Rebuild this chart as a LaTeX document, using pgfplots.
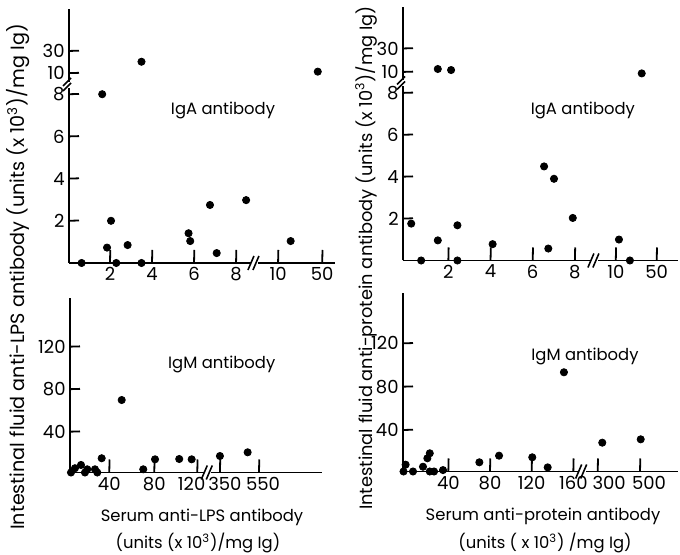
\documentclass[border=0pt]{standalone}
\usepackage{fontspec}
\setmainfont{Poppins}
\usepackage{pgfplots}
\pgfplotsset{compat=1.18}
\newcommand\ff{\fontsize{8.2}{10}\selectfont}
\newcommand\tf{\fontsize{9}{10}\selectfont}
\newcommand\yfl{\fontsize{9.6}{10}\selectfont}
\newcommand\yfr{\fontsize{8.9}{10}\selectfont}
\pgfplotsset{brk/.style={scale only axis, anchor=south west, axis lines=left,
  axis line style={-, line width=0.9pt}, tick align=inside, major tick length=0pt,
  clip=false, ticklabel style={font=\tf},
  xticklabel style={inner sep=2pt}, yticklabel style={inner sep=2pt},
  minor tick num=0}}
\tikzset{dots/.style={black, only marks, mark=*, mark size=1.8pt, mark options={fill=black, draw=black}}}
\newcommand\xbreak[2]{%
  \fill[white] ([xshift=-2pt,yshift=-1.5pt]axis cs:#1,#2) rectangle ([xshift=1.5pt,yshift=1.5pt]axis cs:#1,#2);
  \draw[line width=0.8pt] ([xshift=-3.5pt,yshift=-3.5pt]axis cs:#1,#2) -- ([xshift=-0.5pt,yshift=3.5pt]axis cs:#1,#2);
  \draw[line width=0.8pt] ([xshift=-1pt,yshift=-3.5pt]axis cs:#1,#2) -- ([xshift=2pt,yshift=3.5pt]axis cs:#1,#2);}
\newcommand\ybreak[2]{%
  \fill[white] ([xshift=-1.5pt,yshift=-1.5pt]axis cs:#1,#2) rectangle ([xshift=1.5pt,yshift=1.5pt]axis cs:#1,#2);
  \draw[line width=0.8pt] ([xshift=-3pt,yshift=-3pt]axis cs:#1,#2) -- ([xshift=1pt,yshift=1pt]axis cs:#1,#2);
  \draw[line width=0.8pt] ([xshift=-3pt,yshift=-0.5pt]axis cs:#1,#2) -- ([xshift=1pt,yshift=3.5pt]axis cs:#1,#2);}
\begin{document}
\begin{tikzpicture}
\useasboundingbox (0,0) rectangle (340pt,277.5pt);
% top left
\begin{axis}[brk, at={(34.5pt,146pt)}, width=133pt, height=127pt,
  xmin=0.05, xmax=12.71, ymin=0, ymax=12.04,
  xtick={2,4,6,8,10,12.1}, xticklabels={2,4,6,8,10,50},
  ytick={2,4,6,8,9.0,10.05}, yticklabels={2,4,6,8,10,30}]
\addplot[dots] coordinates {(0.65,0) (1.63,8.0) (3.5,9.54) (1.86,0.73) (2.05,2.0) (2.3,0) (2.84,0.85) (3.5,0) (5.74,1.41) (5.82,1.04) (6.76,2.75) (7.08,0.47) (8.48,2.98) (10.6,1.04) (11.89,9.07)};
\xbreak{8.9}{0}
\ybreak{0.05}{8.44}
\node[font=\ff] at (axis cs:7.38,7.25) {IgA antibody};
\end{axis}
% top right
\begin{axis}[brk, at={(201.5pt,147.25pt)}, width=137.5pt, height=126.75pt,
  xmin=-0.15, xmax=12.89, ymin=0, ymax=12.1,
  xtick={2,4,6,8,9.94,11.88}, xticklabels={2,4,6,8,10,50},
  ytick={2,4,6,8,9.0,10.12}, yticklabels={2,4,6,8,10,30}]
\addplot[dots] coordinates {(0.24,1.76) (0.71,0) (1.5,0.96) (1.5,9.14) (2.13,9.09) (2.43,1.68) (2.43,0) (4.1,0.78) (6.54,4.49) (7.01,3.9) (6.74,0.57) (7.9,2.03) (10.09,1.0) (10.61,0) (11.17,8.93)};
\xbreak{8.95}{0}
\ybreak{-0.15}{8.45}
\node[font=\ff] at (axis cs:8.38,7.18) {IgA antibody};
\end{axis}
% bottom left
\begin{axis}[brk, at={(35pt,41.25pt)}, width=126pt, height=87.25pt,
  xmin=4.3, xmax=233.4, ymin=1.6, ymax=165.8,
  xtick={40,80.9,120,140.6,176.1}, xticklabels={40,80,\hspace*{-5.6pt}120,\hspace*{5pt}350,\hspace*{4pt}550},
  ytick={40,80,120}, yticklabels={40,80,120}]
\addplot[dots] coordinates {(5.2,1.6) (8.8,5.6) (14.3,8.7) (17.9,1.6) (20,4.6) (27,4.6) (29.1,1.6) (33.1,15) (51.3,69.8) (70.9,4.6) (81.6,14) (103.6,14.3) (114.9,14) (140.6,17.1) (165.8,20.6)};
\xbreak{130}{1.6}
\node[font=\ff] at (axis cs:142.2,102.8) {IgM antibody};
\end{axis}
% bottom right
\begin{axis}[brk, at={(201.5pt,41.75pt)}, width=137.5pt, height=89.25pt,
  xmin=-3.5, xmax=260.5, ymin=1.7, ymax=166.5,
  xtick={40,80,120,160,183.4,224}, xticklabels={40,80,120,160,\hspace*{11.5pt}300,\hspace*{9pt}500},
  ytick={40,80,120}, yticklabels={40,80,120}]
\addplot[dots] coordinates {(-3,1.7) (-1,8) (6.1,1.7) (15.7,6.1) (19.9,13.9) (22.2,18.5) (22.2,1.7) (26.3,1.7) (34.9,3) (69.8,10.2) (88.7,16.3) (120.6,14.8) (135.4,5.5) (151,93.3) (187.8,28.3) (224.7,31.4)};
\xbreak{169}{1.7}
\node[font=\ff] at (axis cs:171.2,107.7) {IgM antibody};
\end{axis}
% tick marks (picture coordinates, pt)
\foreach \x in {54.99,76.0,97.01,118.02,139.03,161.1} \draw[line width=0.9pt] (\x pt,146pt) -- (\x pt+0.15pt,152.5pt);
\foreach \y in {167.1,188.19,209.29,230.38,240.93,252.01} \draw[line width=0.9pt] (34.5pt,\y pt) -- (39.5pt,\y pt+0.15pt);
\foreach \x in {224.17,245.26,266.35,287.44,307.89,328.35} \draw[line width=0.9pt] (\x pt,147.25pt) -- (\x pt+0.15pt,153.75pt);
\foreach \y in {168.2,189.15,210.1,231.05,241.53,253.26} \draw[line width=0.9pt] (201.5pt,\y pt) -- (206.5pt,\y pt+0.15pt);
\foreach \x in {54.63,77.13,98.63,109.96,129.49} \draw[line width=0.9pt] (\x pt,41.25pt) -- (\x pt+0.15pt,47.75pt);
\foreach \y in {61.65,82.91,104.16} \draw[line width=0.9pt] (35pt,\y pt) -- (40pt,\y pt+0.15pt);
\foreach \x in {224.16,245.0,265.83,286.66,298.85,320.0} \draw[line width=0.9pt] (\x pt,41.75pt) -- (\x pt+0.15pt,48.25pt);
\foreach \y in {62.49,84.15,105.82} \draw[line width=0.9pt] (201.5pt,\y pt) -- (206.5pt,\y pt+0.15pt);
% outer labels
\node[font=\ff] at (101pt,19pt) {Serum anti-LPS antibody};
\node[font=\ff] at (99pt,6pt) {(units (x 10\textsuperscript{3})/mg Ig)};
\node[font=\ff] at (271.5pt,19.15pt) {Serum anti-protein antibody};
\node[font=\ff] at (272.5pt,6pt) {(units ( x 10\textsuperscript{3}) /mg Ig)};
\node[font=\yfl, rotate=90] at (9pt,139pt) {Intestinal fluid anti-LPS antibody (units (x 10\textsuperscript{3})/mg Ig)};
\node[font=\yfr, rotate=90] at (183pt,148.5pt) {Intestinal fluid anti-protein antibody (units (x 10\textsuperscript{3})/mg Ig)};
\end{tikzpicture}
\end{document}
